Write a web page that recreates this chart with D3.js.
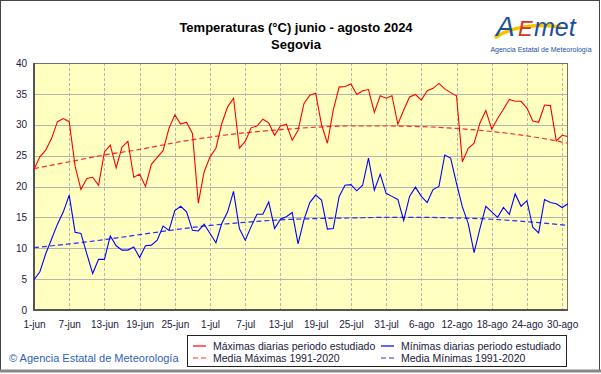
<!DOCTYPE html>
<html lang="es">
  <head>
    <meta charset="utf-8">
    <title>Temperaturas Segovia</title>
    <style>
      body { margin: 0; background: #fff; }
      text { font-family: Arial, "Liberation Sans", sans-serif; }
    </style>
  </head>
  <body>
    <div id="chart"></div>

    <script src="https://d3js.org/d3.v7.min.js"></script>
    <script>

    // daily values, 1-jun (day 0) to 31-ago (day 91)
    var tmax = [22.8, 24.8, 25.9, 27.8, 30.5, 31.0, 30.5, 23.3, 19.5, 21.3,
                21.5, 20.2, 25.6, 26.7, 23.0, 26.4, 27.3, 21.5, 22.0, 20.0,
                23.6, 24.7, 25.8, 29.4, 31.6, 30.1, 30.4, 28.6, 17.3, 22.4,
                24.8, 26.2, 30.2, 32.9, 34.3, 26.2, 27.3, 29.5, 29.8, 30.9,
                30.3, 28.3, 29.8, 30.1, 27.5, 29.1, 33.4, 34.8, 35.1, 30.0,
                27.0, 32.4, 36.1, 36.2, 36.6, 34.9, 35.5, 35.7, 32.0, 34.7,
                34.3, 34.7, 30.1, 32.4, 34.5, 34.9, 34.0, 35.5, 35.9, 36.7,
                35.8, 35.2, 34.7, 24.0, 26.2, 27.0, 30.3, 32.3, 29.3, 31.0,
                32.5, 34.1, 33.8, 33.8, 32.7, 30.6, 30.4, 33.2, 33.1, 27.4,
                28.3, 28.1];

    var tmin = [4.9, 6.2, 9.1, 11.5, 13.9, 15.9, 18.6, 12.6, 12.4, 9.1,
                5.9, 8.2, 8.2, 12.0, 10.4, 9.7, 9.7, 10.2, 8.5, 10.4,
                10.5, 11.3, 13.6, 12.9, 16.1, 16.8, 15.9, 12.9, 12.8, 13.9,
                12.4, 10.9, 14.0, 15.9, 19.2, 13.2, 11.3, 13.5, 15.5, 15.5,
                17.5, 13.2, 14.7, 15.1, 15.8, 10.7, 14.6, 17.4, 18.6, 17.8,
                13.1, 13.2, 18.4, 20.2, 20.3, 19.3, 20.2, 24.6, 19.4, 22.0,
                18.9, 18.4, 17.9, 14.5, 18.4, 19.9, 18.4, 17.4, 19.5, 20.0,
                25.1, 24.6, 20.5, 16.7, 14.0, 9.3, 13.2, 16.8, 15.9, 15.0,
                16.6, 15.5, 18.8, 16.8, 17.7, 13.4, 12.5, 17.9, 17.4, 17.2,
                16.6, 17.2];

    // climatology 1991-2020, read every 6 days
    var meanDays = [0, 6, 12, 18, 24, 30, 36, 42, 48, 54, 60, 66, 72, 78, 84, 90, 91];
    var meanMax  = [22.9, 24.0, 25.1, 26.0, 27.1, 28.0, 28.7, 29.2, 29.6, 29.8, 29.8, 29.7, 29.4, 28.9, 28.2, 27.2, 27.0];
    var meanMin  = [10.1, 10.7, 11.4, 12.2, 13.0, 13.7, 14.2, 14.6, 14.8, 14.9, 15.0, 15.0, 14.9, 14.7, 14.3, 13.8, 13.7];

    var tickDays   = [0, 6, 12, 18, 24, 30, 36, 42, 48, 54, 60, 66, 72, 78, 84, 90];
    var tickLabels = ["1-jun", "7-jun", "13-jun", "19-jun", "25-jun", "1-jul", "7-jul", "13-jul",
                      "19-jul", "25-jul", "31-jul", "6-ago", "12-ago", "18-ago", "24-ago", "30-ago"];
    var yTicks = [0, 5, 10, 15, 20, 25, 30, 35, 40];

    var W = 601, H = 374;
    var margin = {top: 63, right: 33, bottom: 64, left: 34},
      width = W - margin.left - margin.right,
      height = H - margin.top - margin.bottom;

    var svg = d3.select("#chart")
    .append("svg")
      .attr("width", W)
      .attr("height", H);

    // outer frame
    svg.append("rect")
      .attr("x", 0.5).attr("y", 0.5)
      .attr("width", W - 2).attr("height", H - 3)
      .attr("fill", "#fff")
      .attr("stroke", "#444");
    svg.append("line")
      .attr("x1", 0).attr("x2", W).attr("y1", H - 3).attr("y2", H - 3)
      .attr("stroke", "#888").attr("stroke-width", 3);

    // titles
    svg.append("text")
      .attr("x", 296).attr("y", 32)
      .attr("text-anchor", "middle")
      .attr("font-size", "13px").attr("font-weight", "bold")
      .attr("fill", "#000")
      .text("Temperaturas (°C) junio - agosto 2024");
    svg.append("text")
      .attr("x", 296).attr("y", 49)
      .attr("text-anchor", "middle")
      .attr("font-size", "13px").attr("font-weight", "bold")
      .attr("fill", "#000")
      .text("Segovia");

    // logo
    var logo = svg.append("g");
    logo.append("path")
      .attr("d", "M496,37 C510,27 540,23 560,27")
      .attr("fill", "none").attr("stroke", "#f5c400").attr("stroke-width", 3.5)
      .attr("stroke-linecap", "round");
    logo.append("text")
      .attr("x", 496).attr("y", 36)
      .attr("font-size", "28px").attr("font-style", "italic")
      .attr("fill", "#1a4fa0")
      .text("A");
    logo.append("text")
      .attr("x", 518).attr("y", 36)
      .attr("font-size", "22px").attr("font-style", "italic")
      .attr("fill", "#e03020")
      .text("E");
    logo.append("text")
      .attr("x", 534).attr("y", 36)
      .attr("font-size", "25px").attr("font-style", "italic")
      .attr("fill", "#1a4fa0")
      .text("met");
    logo.append("text")
      .attr("x", 541).attr("y", 52)
      .attr("text-anchor", "middle")
      .attr("font-size", "7px")
      .attr("fill", "#1a4fa0")
      .text("Agencia Estatal de Meteorología");

    var g = svg.append("g")
      .attr("transform", "translate(" + margin.left + "," + margin.top + ")");

    var x = d3.scaleLinear().domain([0, 91]).range([0, width]);
    var y = d3.scaleLinear().domain([0, 40]).range([height, 0]);

    // plot background
    g.append("rect")
      .attr("width", width).attr("height", height)
      .attr("fill", "#ffffc0");

    // grid
    g.selectAll(".hgrid")
      .data(yTicks.filter(function(d){ return d > 0 && d < 40; }))
      .enter().append("line")
        .attr("x1", 0).attr("x2", width)
        .attr("y1", function(d){ return Math.round(y(d)) + 0.5; })
        .attr("y2", function(d){ return Math.round(y(d)) + 0.5; })
        .attr("stroke", "#b4b4b4");
    g.selectAll(".vgrid")
      .data(tickDays.filter(function(d){ return d > 0; }))
      .enter().append("line")
        .attr("x1", function(d){ return Math.round(x(d)) + 0.5; })
        .attr("x2", function(d){ return Math.round(x(d)) + 0.5; })
        .attr("y1", 0).attr("y2", height)
        .attr("stroke", "#b4b4b4")
        .attr("stroke-dasharray", "3,2");

    // axes
    var xAxis = d3.axisBottom(x)
      .tickValues(tickDays)
      .tickSize(0).tickPadding(11)
      .tickFormat(function(d, i){ return tickLabels[i]; });
    var yAxis = d3.axisLeft(y)
      .tickValues(yTicks)
      .tickSize(0).tickPadding(7);

    var gx = g.append("g")
      .attr("transform", "translate(0," + height + ")")
      .call(xAxis);
    var gy = g.append("g").call(yAxis);
    [gx, gy].forEach(function(a){
      a.select(".domain").remove();
      a.selectAll("text")
        .attr("font-family", "Arial, 'Liberation Sans', sans-serif")
        .attr("font-size", "10px")
        .attr("fill", "#1a1a3a");
    });

    // plot border
    g.append("rect")
      .attr("x", 0.5).attr("y", 0.5)
      .attr("width", width - 1).attr("height", height - 1)
      .attr("fill", "none")
      .attr("stroke", "#707070");
    g.append("line")
      .attr("x1", 0).attr("x2", 0).attr("y1", 0).attr("y2", height + 1)
      .attr("stroke", "#555").attr("stroke-width", 2);
    g.append("line")
      .attr("x1", 0).attr("x2", width).attr("y1", height).attr("y2", height)
      .attr("stroke", "#555").attr("stroke-width", 2);

    // lines
    var daily = d3.line()
      .x(function(d, i){ return x(i); })
      .y(function(d){ return y(d); });
    var mean = d3.line()
      .x(function(d, i){ return x(meanDays[i]); })
      .y(function(d){ return y(d); })
      .curve(d3.curveMonotoneX);

    g.append("path").datum(meanMax)
      .attr("d", mean).attr("fill", "none")
      .attr("stroke", "#ff2a2a").attr("stroke-width", 1.2)
      .attr("stroke-dasharray", "5,3");
    g.append("path").datum(meanMin)
      .attr("d", mean).attr("fill", "none")
      .attr("stroke", "#2a2aff").attr("stroke-width", 1.2)
      .attr("stroke-dasharray", "5,3");
    g.append("path").datum(tmax)
      .attr("d", daily).attr("fill", "none")
      .attr("stroke", "#ff0000").attr("stroke-width", 1.1);
    g.append("path").datum(tmin)
      .attr("d", daily).attr("fill", "none")
      .attr("stroke", "#0000ff").attr("stroke-width", 1.1);

    // legend
    var lg = svg.append("g");
    lg.append("rect")
      .attr("x", 187.5).attr("y", 335.5)
      .attr("width", 379).attr("height", 31)
      .attr("fill", "#fff").attr("stroke", "#222");
    var items = [
      {x: 193, y: 346, color: "#ff0000", dash: null, label: "Máximas diarias periodo estudiado"},
      {x: 193, y: 358, color: "#ff2a2a", dash: "5,3", label: "Media Máximas 1991-2020"},
      {x: 381, y: 346, color: "#0000ff", dash: null, label: "Mínimas diarias periodo estudiado"},
      {x: 381, y: 358, color: "#2a2aff", dash: "5,3", label: "Media Mínimas 1991-2020"}
    ];
    items.forEach(function(it){
      lg.append("line")
        .attr("x1", it.x).attr("x2", it.x + 13)
        .attr("y1", it.y).attr("y2", it.y)
        .attr("stroke", it.color).attr("stroke-width", 1.2)
        .attr("stroke-dasharray", it.dash);
      lg.append("text")
        .attr("x", it.x + 20).attr("y", it.y + 4)
        .attr("font-size", "10.5px")
        .attr("fill", "#1a1a3a")
        .text(it.label);
    });

    // copyright
    svg.append("text")
      .attr("x", 9).attr("y", 362)
      .attr("font-size", "11px")
      .attr("fill", "#2f5fb8")
      .text("© Agencia Estatal de Meteorología");

    </script>
  </body>
</html>
